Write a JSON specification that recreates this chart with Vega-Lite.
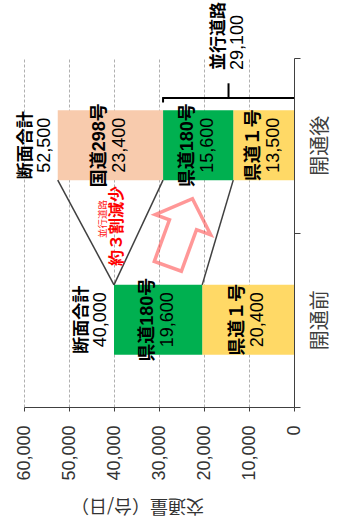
{
  "$schema": "https://vega.github.io/schema/vega-lite/v6.json",
  "width": 270,
  "height": 349,
  "autosize": {"type": "none"},
  "padding": {"left": 24, "top": 58, "right": 47, "bottom": 118},
  "background": "white",
  "config": {
    "view": {"stroke": null},
    "text": {"font": "Liberation Sans, Noto Sans CJK JP"}
  },
  "datasets": {
    "traffic": [
      {"時期": "開通前", "路線": "県道１号", "交通量": 20400},
      {"時期": "開通前", "路線": "県道180号", "交通量": 19600},
      {"時期": "開通後", "路線": "県道１号", "交通量": 13500},
      {"時期": "開通後", "路線": "県道180号", "交通量": 15600},
      {"時期": "開通後", "路線": "国道298号", "交通量": 23400}
    ],
    "connectors": [
      {"線": "国道298号", "開通後累計": 52500, "開通前累計": 40000},
      {"線": "県道180号", "開通後累計": 29100, "開通前累計": 40000},
      {"線": "県道１号", "開通後累計": 13500, "開通前累計": 20400}
    ],
    "notes": [{"小見出し": "並行道路", "見出し": "約３割減少"}]
  },
  "layer": [
    {
      "data": {"name": "traffic"},
      "mark": {"type": "bar", "height": {"band": 0.4}},
      "encoding": {
        "y": {"field": "時期", "type": "nominal", "title": null,
          "scale": {"type": "band", "domain": ["開通後", "開通前"], "paddingInner": 0, "paddingOuter": 0},
          "axis": {"orient": "right", "tickBand": "extent", "tickSize": 6, "tickColor": "#404040", "domainColor": "#404040", "labelAngle": 270, "labelAlign": "center", "labelBaseline": "middle", "labelPadding": 20, "labelFontSize": 20, "labelFont": "Noto Sans CJK JP", "labelColor": "#404040", "grid": false}
        },
        "x": {"field": "交通量", "type": "quantitative", "stack": "zero", "title": "交通量（台/日）",
          "scale": {"domain": [0, 60000], "reverse": true, "nice": false},
          "axis": {"values": [0, 10000, 20000, 30000, 40000, 50000, 60000], "labelExpr": "format(datum.value, ',')", "labelAngle": 270, "labelAlign": "right", "labelBaseline": "middle", "labelPadding": 14, "labelFontSize": 18, "labelFont": "Liberation Sans", "labelColor": "#333333", "labelFlush": false, "labelOverlap": false, "tickSize": 4, "tickColor": "#404040", "domainColor": "#404040", "grid": true, "gridColor": "#b0b0b0", "gridDash": [3, 2], "titleAngle": 180, "titleFontSize": 18, "titleFont": "Noto Sans CJK JP", "titleFontWeight": "normal", "titleColor": "#333333", "titleX": 113, "titleY": 97, "titleAlign": "center", "titleBaseline": "middle"}
        },
        "color": {"field": "路線", "type": "nominal", "scale": {"domain": ["県道１号", "県道180号", "国道298号"], "range": ["#FFD966", "#00B050", "#F8CBAD"]}, "legend": null},
        "order": {"field": "路線", "sort": "descending"}
      }
    },
    {
      "data": {"name": "connectors"},
      "mark": {"type": "rule", "color": "#404040", "strokeWidth": 1.5},
      "encoding": {
        "x": {"field": "開通後累計", "type": "quantitative", "title": "交通量（台/日）"},
        "x2": {"field": "開通前累計"},
        "y": {"datum": "開通後", "type": "nominal", "bandPosition": 0.7, "title": null},
        "y2": {"datum": "開通前", "bandPosition": 0.3}
      }
    },
    {
      "data": {"name": "traffic"},
      "mark": {"type": "text", "angle": 270, "align": "center", "baseline": "middle", "fontSize": 18, "fontWeight": "bold", "dy": -10, "color": "black"},
      "encoding": {
        "x": {"field": "交通量", "type": "quantitative", "stack": "zero", "bandPosition": 0.5, "title": "交通量（台/日）"},
        "y": {"field": "時期", "type": "nominal", "title": null},
        "detail": {"field": "路線"},
        "order": {"field": "路線", "sort": "descending"},
        "text": {"field": "路線"}
      }
    },
    {
      "data": {"name": "traffic"},
      "mark": {"type": "text", "angle": 270, "align": "center", "baseline": "middle", "fontSize": 18, "dy": 10, "color": "black"},
      "encoding": {
        "x": {"field": "交通量", "type": "quantitative", "stack": "zero", "bandPosition": 0.5, "title": "交通量（台/日）"},
        "y": {"field": "時期", "type": "nominal", "title": null},
        "detail": {"field": "路線"},
        "order": {"field": "路線", "sort": "descending"},
        "text": {"field": "交通量", "format": ","}
      }
    },
    {
      "data": {"name": "traffic"},
      "transform": [{"aggregate": [{"op": "sum", "field": "交通量", "as": "断面合計"}], "groupby": ["時期"]}],
      "mark": {"type": "text", "angle": 270, "align": "center", "baseline": "middle", "fontSize": 17, "fontWeight": "bold", "dy": -32, "color": "black"},
      "encoding": {
        "x": {"field": "断面合計", "type": "quantitative", "title": "交通量（台/日）"},
        "y": {"field": "時期", "type": "nominal", "title": null},
        "text": {"value": "断面合計"}
      }
    },
    {
      "data": {"name": "traffic"},
      "transform": [{"aggregate": [{"op": "sum", "field": "交通量", "as": "断面合計"}], "groupby": ["時期"]}],
      "mark": {"type": "text", "angle": 270, "align": "center", "baseline": "middle", "fontSize": 18, "dy": -13, "color": "black"},
      "encoding": {
        "x": {"field": "断面合計", "type": "quantitative", "title": "交通量（台/日）"},
        "y": {"field": "時期", "type": "nominal", "title": null},
        "text": {"field": "断面合計", "format": ","}
      }
    },
    {
      "data": {"name": "traffic"},
      "transform": [
        {"filter": "datum['時期'] === '開通後' && datum['路線'] !== '国道298号'"},
        {"aggregate": [{"op": "sum", "field": "交通量", "as": "並行道路計"}], "groupby": ["時期"]}
      ],
      "layer": [
        {
          "mark": {"type": "rule", "color": "#000000", "strokeWidth": 2},
          "encoding": {
            "x": {"field": "並行道路計", "type": "quantitative", "title": "交通量（台/日）"},
            "x2": {"datum": 0},
            "y": {"field": "時期", "type": "nominal", "bandPosition": 0.229, "title": null}
          }
        },
        {
          "mark": {"type": "rule", "color": "#000000", "strokeWidth": 2},
          "encoding": {
            "x": {"field": "並行道路計", "type": "quantitative", "title": "交通量（台/日）"},
            "y": {"field": "時期", "type": "nominal", "bandPosition": 0.224, "title": null},
            "y2": {"field": "時期", "bandPosition": 0.255}
          }
        },
        {
          "mark": {"type": "rule", "color": "#000000", "strokeWidth": 2},
          "encoding": {
            "x": {"datum": 14550, "type": "quantitative", "title": "交通量（台/日）"},
            "y": {"field": "時期", "type": "nominal", "bandPosition": 0.145, "title": null},
            "y2": {"field": "時期", "bandPosition": 0.229}
          }
        },
        {
          "mark": {"type": "text", "angle": 270, "align": "left", "baseline": "middle", "fontSize": 17, "fontWeight": "bold", "dy": -10, "color": "black"},
          "encoding": {
            "x": {"datum": 14550, "type": "quantitative", "title": "交通量（台/日）"},
            "y": {"field": "時期", "type": "nominal", "bandPosition": 0.069, "title": null},
            "text": {"value": "並行道路"}
          }
        },
        {
          "mark": {"type": "text", "angle": 270, "align": "left", "baseline": "middle", "fontSize": 18, "dy": 9, "color": "black"},
          "encoding": {
            "x": {"datum": 14550, "type": "quantitative", "title": "交通量（台/日）"},
            "y": {"field": "時期", "type": "nominal", "bandPosition": 0.069, "title": null},
            "text": {"field": "並行道路計", "format": ","}
          }
        }
      ]
    },
    {
      "data": {"name": "notes"},
      "mark": {"type": "point", "shape": "M0,-1 L0.82,-0.23 L0.4,-0.23 L0.4,1 L-0.4,1 L-0.4,-0.23 L-0.82,-0.23 Z", "size": 5184, "angle": 20, "filled": false, "stroke": "#ff3b3b", "strokeWidth": 3.5, "strokeOpacity": 0.75, "strokeJoin": "miter"},
      "encoding": {
        "x": {"datum": 25300, "type": "quantitative", "title": "交通量（台/日）"},
        "y": {"datum": "開通前", "type": "nominal", "bandPosition": 0, "title": null}
      }
    },
    {
      "data": {"name": "notes"},
      "mark": {"type": "text", "angle": 270, "align": "center", "baseline": "middle", "fontSize": 9.5, "color": "#ff2020", "font": "Noto Sans CJK JP"},
      "encoding": {
        "x": {"datum": 42500, "type": "quantitative", "title": "交通量（台/日）"},
        "y": {"datum": "開通後", "type": "nominal", "bandPosition": 0.923, "title": null},
        "text": {"field": "小見出し"}
      }
    },
    {
      "data": {"name": "notes"},
      "mark": {"type": "text", "angle": 270, "align": "center", "baseline": "middle", "fontSize": 16, "fontWeight": "bold", "color": "#ff0000", "font": "Noto Sans CJK JP"},
      "encoding": {
        "x": {"datum": 39400, "type": "quantitative", "title": "交通量（台/日）"},
        "y": {"datum": "開通後", "type": "nominal", "bandPosition": 0.963, "title": null},
        "text": {"field": "見出し"}
      }
    }
  ]
}
